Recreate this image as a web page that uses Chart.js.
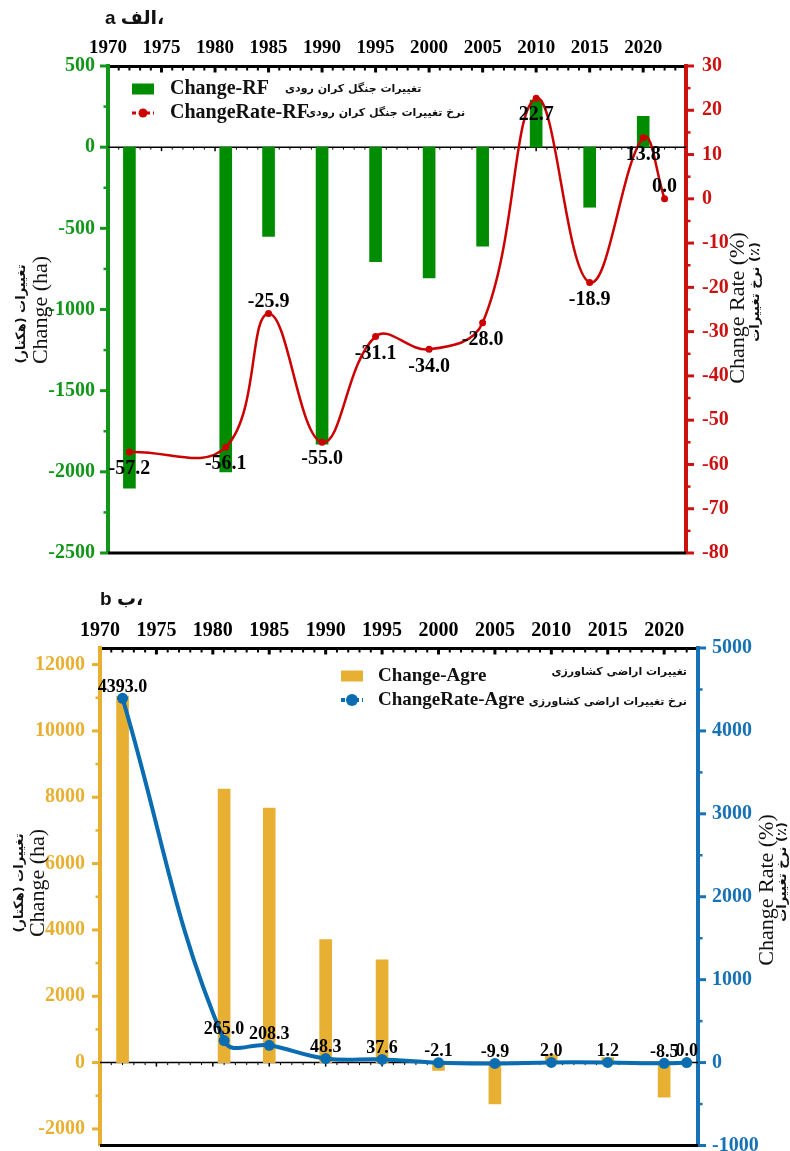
<!DOCTYPE html>
<html>
<head>
<meta charset="utf-8">
<script src="https://cdn.jsdelivr.net/npm/chart.js@4.4.0/dist/chart.umd.min.js"></script>
<style>
  html, body { margin: 0; padding: 0; background: #fff; }
  #wrap { position: relative; width: 790px; height: 1151px; }
  .box { position: absolute; left: 0; width: 790px; }
  #boxA { top: 0; height: 580px; }
  #boxB { top: 580px; height: 571px; }
</style>
</head>
<body>
<div id="wrap">
  <div class="box" id="boxA"><canvas id="chartA" width="790" height="580"></canvas></div>
  <div class="box" id="boxB"><canvas id="chartB" width="790" height="571"></canvas></div>
</div>
<script>
// ---- data ----
const years = [1972, 1981, 1985, 1990, 1995, 2000, 2005, 2010, 2015, 2020, 2022];

// (a) riparian forest
const changeRF = [-2100, -2000, -550, -1830, -706, -805, -610, 290, -370, 190, null];
const rateRF = [-57.2, -56.1, -25.9, -55.0, -31.1, -34.0, -28.0, 22.7, -18.9, 13.8, 0.0];

// (b) agricultural land
const changeAgre = [11050, 8250, 7670, 3710, 3100, -240, -1250, 240, 150, -1040, null];
const rateAgre = [4393.0, 265.0, 208.3, 48.3, 37.6, -2.1, -9.9, 2.0, 1.2, -8.5, 0.0];

// tick labels
const yearTicks = [1970, 1975, 1980, 1985, 1990, 1995, 2000, 2005, 2010, 2015, 2020];
const changeTicksA = [-2500, -2000, -1500, -1000, -500, 0, 500];
const rateTicksA = [-80, -70, -60, -50, -40, -30, -20, -10, 0, 10, 20, 30];
const changeTicksB = [-2000, 0, 2000, 4000, 6000, 8000, 10000, 12000];
const rateTicksB = [-1000, 0, 1000, 2000, 3000, 4000, 5000];

// where each value label sits relative to its point
const labelPlaceA = ['below', 'below', 'above', 'below', 'below', 'below', 'below', 'below', 'below', 'below', 'above'];
const labelPlaceB = rateAgre.map(() => 'above');

const SERIF = "'Liberation Serif', 'Times New Roman', serif";
const FA = "'DejaVu Sans', sans-serif";

const GREEN = '#008c00', GREEN_AX = '#12961a';
const RED = '#cc0000', RED_AX = '#cc1111';
const GOLD = '#e8b032';
const BLUE = '#0b6db1', BLUE_AX = '#1671b5';

function toPoints(arr) {
    return years.map((x, i) => ({ x, y: arr[i] })).filter((p) => p.y !== null);
}

function fixWidth(w) {
    return (s) => { s.width = w; s.paddingTop = 0; s.paddingBottom = 0; };
}
function fixHeight(h) {
    return (s) => { s.height = h; s.paddingLeft = 0; s.paddingRight = 0; };
}
function useTicks(list) {
    return (s) => { s.ticks = list.map((value) => ({ value })); };
}

function seg(ctx, x1, y1, x2, y2) {
    ctx.beginPath();
    ctx.moveTo(x1, y1);
    ctx.lineTo(x2, y2);
    ctx.stroke();
}

function rotText(ctx, text, x, y, font, color) {
    ctx.save();
    ctx.translate(x, y);
    ctx.rotate(-Math.PI / 2);
    ctx.font = font;
    ctx.fillStyle = color;
    ctx.textAlign = 'center';
    ctx.textBaseline = 'middle';
    ctx.fillText(text, 0, 0);
    ctx.restore();
}

// axis frame, minor ticks, legend, titles
const decor = {
    id: 'decor',
    beforeDatasetsDraw(chart, args, o) {
        const { ctx, chartArea: a, scales } = chart;
        const y0 = scales.y.getPixelForValue(0);
        ctx.save();
        ctx.strokeStyle = '#000';
        ctx.lineWidth = 1.5;
        seg(ctx, a.left, y0, a.right, y0);
        for (let yr = 1971; yr < scales.x.max; yr++) {
            const x = scales.x.getPixelForValue(yr);
            ctx.lineWidth = yr % 5 === 0 ? 1.5 : 1;
            seg(ctx, x, y0, x, y0 + (yr % 5 === 0 ? 4 : 2.5));
        }
        ctx.restore();
    },
    afterDraw(chart, args, o) {
        const { ctx, chartArea: a, scales } = chart;
        ctx.save();
        // bottom frame
        ctx.strokeStyle = '#000';
        ctx.lineWidth = 3;
        seg(ctx, a.left, a.bottom, a.right, a.bottom);
        // top ticks pointing inward
        for (let yr = 1971; yr < scales.x.max; yr++) {
            const x = scales.x.getPixelForValue(yr);
            const major = yr % 5 === 0;
            ctx.lineWidth = major ? 3 : 2;
            seg(ctx, x, a.top, x, a.top + (major ? 6.5 : 4.5));
        }
        // y ticks pointing outward
        [['y', a.left, -1, o.leftColor, o.leftStep], ['y1', a.right, 1, o.rightColor, o.rightStep]].forEach(([id, x0, dir, color, step]) => {
            const s = scales[id];
            ctx.strokeStyle = color;
            const minor = step / 2;
            for (let v = Math.ceil(s.min / minor) * minor; v <= s.max + 1e-9; v += minor) {
                const y = s.getPixelForValue(v);
                const major = Math.abs(Math.round(v / step) * step - v) < 1e-6;
                ctx.lineWidth = major ? 3 : 2.5;
                seg(ctx, x0, y, x0 + dir * (major ? 8 : 4.5), y);
            }
        });
        // legend
        o.legend.forEach((it) => {
            ctx.fillStyle = it.color;
            ctx.strokeStyle = it.color;
            if (it.kind === 'rect') {
                ctx.fillRect(it.x, it.y - it.h / 2, it.w, it.h);
            } else {
                ctx.lineWidth = it.lw;
                ctx.setLineDash([4, 3]);
                seg(ctx, it.x, it.y, it.x + it.w, it.y);
                ctx.setLineDash([]);
                ctx.beginPath();
                ctx.arc(it.x + it.w / 2, it.y, it.r, 0, Math.PI * 2);
                ctx.fill();
            }
            ctx.fillStyle = '#111';
            ctx.textBaseline = 'middle';
            ctx.textAlign = 'left';
            ctx.font = `bold ${o.legendSize}px ${SERIF}`;
            ctx.fillText(it.text, it.tx, it.y);
            ctx.font = `bold 11px ${FA}`;
            ctx.textAlign = it.faAlign;
            ctx.fillText(it.fa, it.fax, it.fay);
        });
        // axis titles
        o.titles.forEach((t) => rotText(ctx, t.text, t.x, t.y, t.font, '#111'));
        // panel label
        ctx.font = `bold 19px 'Liberation Sans', ${FA}`;
        ctx.fillStyle = '#111';
        ctx.textAlign = 'left';
        ctx.textBaseline = 'middle';
        ctx.fillText(o.panel.text, o.panel.x, o.panel.y);
        ctx.restore();
    },
};

const valueLabels = {
    id: 'valueLabels',
    afterDatasetsDraw(chart, args, o) {
        const { ctx } = chart;
        const meta = chart.getDatasetMeta(1);
        const ds = chart.data.datasets[1];
        ctx.save();
        ctx.font = `bold ${o.size}px ${SERIF}`;
        ctx.fillStyle = '#000';
        ctx.textAlign = 'center';
        ctx.textBaseline = 'middle';
        meta.data.forEach((pt, i) => {
            const dy = o.place[i] === 'below' ? o.below : -o.above;
            ctx.fillText(ds.data[i].y.toFixed(1), pt.x, pt.y + dy);
        });
        ctx.restore();
    },
};

function tickFont(size) {
    return { family: SERIF, size, weight: 'bold' };
}

function buildChart(el, cfg) {
    return new Chart(document.getElementById(el), {
        type: 'bar',
        data: {
            datasets: [
                {
                    type: 'bar',
                    label: cfg.barLabel,
                    data: toPoints(cfg.bars),
                    backgroundColor: cfg.barColor,
                    barThickness: 12,
                    yAxisID: 'y',
                    order: 1,
                },
                {
                    type: 'line',
                    label: cfg.lineLabel,
                    data: toPoints(cfg.rates),
                    borderColor: cfg.lineColor,
                    backgroundColor: cfg.lineColor,
                    borderWidth: cfg.lineWidth,
                    pointRadius: cfg.pointRadius,
                    pointBorderWidth: 0,
                    pointBackgroundColor: cfg.lineColor,
                    tension: 0.4,
                    yAxisID: 'y1',
                    order: 0,
                },
            ],
        },
        options: {
            responsive: false,
            animation: false,
            events: [],
            layout: { padding: { top: 0, left: 0, right: 0, bottom: cfg.padBottom } },
            plugins: {
                legend: { display: false },
                tooltip: { enabled: false },
                decor: cfg.decor,
                valueLabels: cfg.labels,
            },
            scales: {
                x: {
                    type: 'linear',
                    position: 'top',
                    min: 1970,
                    max: cfg.xMax,
                    offset: false,
                    grid: { display: false, drawTicks: false, offset: false },
                    border: { display: true, color: '#000', width: 3 },
                    ticks: {
                        autoSkip: false,
                        maxRotation: 0,
                        padding: cfg.xPad,
                        color: '#000',
                        font: tickFont(cfg.xFont),
                        callback: (v) => String(v),
                    },
                    afterBuildTicks: useTicks(yearTicks),
                    afterFit: fixHeight(cfg.top),
                },
                y: {
                    position: 'left',
                    min: cfg.yMin,
                    max: cfg.yMax,
                    grid: { display: false, drawTicks: false },
                    border: { display: true, color: cfg.leftColor, width: 4 },
                    ticks: {
                        autoSkip: false,
                        padding: cfg.leftPad,
                        color: cfg.leftColor,
                        font: tickFont(20),
                        callback: (v) => String(v),
                    },
                    afterBuildTicks: useTicks(cfg.yTicks),
                    afterFit: fixWidth(cfg.left),
                },
                y1: {
                    position: 'right',
                    min: cfg.rMin,
                    max: cfg.rMax,
                    grid: { display: false, drawTicks: false },
                    border: { display: true, color: cfg.rightColor, width: 4 },
                    ticks: {
                        autoSkip: false,
                        padding: cfg.rightPad,
                        color: cfg.rightColor,
                        font: tickFont(20),
                        callback: (v) => String(v),
                    },
                    afterBuildTicks: useTicks(cfg.rTicks),
                    afterFit: fixWidth(cfg.right),
                },
            },
        },
        plugins: [decor, valueLabels],
    });
}

buildChart('chartA', {
    barLabel: 'Change-RF',
    lineLabel: 'ChangeRate-RF',
    bars: changeRF,
    rates: rateRF,
    barColor: GREEN,
    lineColor: RED,
    lineWidth: 2.5,
    pointRadius: 3.5,
    xMax: 2024,
    xFont: 19,
    xPad: 7,
    top: 66,
    left: 108,
    right: 104,
    padBottom: 27,
    yMin: -2500, yMax: 500, yTicks: changeTicksA,
    rMin: -80, rMax: 30, rTicks: rateTicksA,
    leftColor: GREEN_AX, rightColor: RED_AX,
    leftPad: 13, rightPad: 16,
    labels: { size: 20, place: labelPlaceA, below: 17, above: 12 },
    decor: {
        leftColor: GREEN_AX, leftStep: 500,
        rightColor: RED_AX, rightStep: 10,
        legendSize: 20,
        legend: [
            { kind: 'rect', color: GREEN, x: 132, y: 89, w: 22, h: 11, text: 'Change-RF', tx: 170,
              fa: 'تغییرات جنگل کران رودی', fax: 285, fay: 89, faAlign: 'left' },
            { kind: 'line', color: RED, x: 132, y: 113, w: 22, lw: 3, r: 4.5, text: 'ChangeRate-RF', tx: 170,
              fa: 'نرخ تغییرات جنگل کران رودی', fax: 306, fay: 113, faAlign: 'left' },
        ],
        titles: [
            { text: 'تغییرات (هکتار)', x: 22, y: 314, font: `bold 13px ${FA}` },
            { text: 'Change (ha)', x: 41, y: 310, font: `22px ${SERIF}` },
            { text: 'Change Rate (%)', x: 738, y: 308, font: `22px ${SERIF}` },
            { text: 'نرخ تغییرات (٪)', x: 756, y: 292, font: `bold 13px ${FA}` },
        ],
        panel: { text: 'a الف،', x: 105, y: 19 },
    },
});

buildChart('chartB', {
    barLabel: 'Change-Agre',
    lineLabel: 'ChangeRate-Agre',
    bars: changeAgre,
    rates: rateAgre,
    barColor: GOLD,
    lineColor: BLUE,
    lineWidth: 4,
    pointRadius: 5.5,
    xMax: 2023,
    xFont: 20,
    xPad: 5,
    top: 68,
    left: 100,
    right: 92,
    padBottom: 5.5,
    yMin: -2500, yMax: 12500, yTicks: changeTicksB,
    rMin: -1000, rMax: 5000, rTicks: rateTicksB,
    leftColor: GOLD, rightColor: BLUE_AX,
    leftPad: 15, rightPad: 14,
    labels: { size: 18, place: labelPlaceB, below: 14, above: 11 },
    decor: {
        leftColor: GOLD, leftStep: 2000,
        rightColor: BLUE_AX, rightStep: 1000,
        legendSize: 19,
        legend: [
            { kind: 'rect', color: GOLD, x: 341, y: 96, w: 22, h: 11, text: 'Change-Agre', tx: 378,
              fa: 'تغییرات اراضی کشاورزی', fax: 687, fay: 92, faAlign: 'right' },
            { kind: 'line', color: BLUE, x: 341, y: 120, w: 22, lw: 4, r: 6, text: 'ChangeRate-Agre', tx: 378,
              fa: 'نرخ تغییرات اراضی کشاورزی', fax: 687, fay: 122, faAlign: 'right' },
        ],
        titles: [
            { text: 'تغییرات (هکتار)', x: 20, y: 303, font: `bold 13px ${FA}` },
            { text: 'Change (ha)', x: 38, y: 303, font: `22px ${SERIF}` },
            { text: 'Change Rate (%)', x: 767, y: 310, font: `22px ${SERIF}` },
            { text: 'نرخ تغییرات (٪)', x: 783, y: 292, font: `bold 13px ${FA}` },
        ],
        panel: { text: 'b ب،', x: 100, y: 20 },
    },
});
</script>
</body>
</html>
